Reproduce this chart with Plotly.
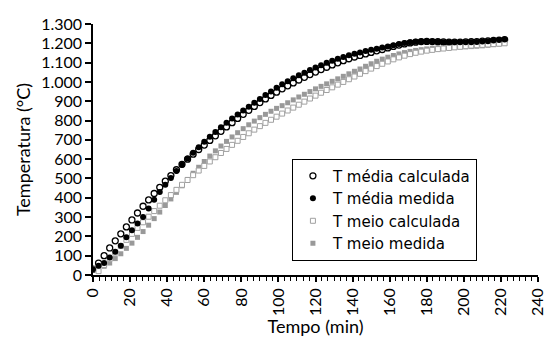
import plotly.graph_objects as go

tempo = list(range(0, 223, 3))

media_calculada = [30, 62, 100, 140, 177, 213, 249, 285, 321, 356, 389, 422, 454, 486, 515,
                   545, 573, 600, 626, 650, 673, 697, 721, 744, 767, 789, 811, 832, 853, 873,
                   893, 912, 930, 947, 964, 980, 995, 1010, 1024, 1038, 1051, 1064, 1076, 1088, 1099,
                   1110, 1120, 1129, 1137, 1145, 1153, 1161, 1168, 1176, 1184, 1191, 1197, 1202, 1206, 1209,
                   1210, 1209, 1208, 1207, 1206, 1206, 1206, 1207, 1208, 1209, 1211, 1213, 1215, 1217, 1219]

media_medida = [30, 48, 62, 90, 120, 152, 195, 232, 267, 301, 345, 390, 430, 467, 503,
                538, 571, 603, 633, 662, 690, 716, 741, 765, 788, 810, 831, 852, 872, 892,
                912, 932, 951, 970, 988, 1004, 1019, 1034, 1048, 1062, 1075, 1087, 1099, 1110, 1120,
                1129, 1138, 1146, 1153, 1160, 1166, 1172, 1178, 1184, 1190, 1196, 1201, 1205, 1208, 1210,
                1210, 1209, 1207, 1206, 1205, 1205, 1205, 1205, 1206, 1207, 1209, 1211, 1214, 1217, 1220]

meio_calculada = [30, 20, 52, 84, 116, 150, 182, 213, 244, 273, 302, 331, 359, 387, 414,
                  441, 467, 492, 517, 541, 565, 588, 610, 632, 653, 674, 695, 715, 734, 753,
                  771, 788, 804, 820, 836, 852, 867, 882, 898, 914, 929, 944, 958, 972, 986,
                  1000, 1014, 1028, 1042, 1056, 1069, 1082, 1094, 1106, 1117, 1127, 1136, 1144, 1151, 1157,
                  1162, 1166, 1170, 1173, 1176, 1179, 1182, 1185, 1188, 1190, 1192, 1194, 1196, 1198, 1200]

meio_medida = [30, 38, 45, 62, 85, 110, 138, 165, 195, 225, 258, 292, 326, 360, 394,
               428, 462, 495, 527, 558, 588, 616, 643, 668, 692, 715, 737, 758, 778, 797,
               815, 832, 848, 863, 877, 892, 907, 922, 936, 950, 964, 977, 990, 1003, 1016,
               1029, 1042, 1055, 1067, 1081, 1094, 1107, 1118, 1128, 1137, 1145, 1152, 1158, 1163, 1167,
               1171, 1174, 1176, 1178, 1179, 1180, 1181, 1182, 1183, 1185, 1187, 1190, 1193, 1196, 1199]

FONT = "Lato"

fig = go.Figure()
fig.add_trace(go.Scatter(x=tempo, y=media_calculada, mode="markers", name="T média calculada",
                         legendrank=1,
                         marker=dict(symbol="circle-open", size=6, color="black", line=dict(width=1.3))))
fig.add_trace(go.Scatter(x=tempo, y=meio_medida, mode="markers", name="T meio medida",
                         legendrank=4,
                         marker=dict(symbol="square", size=5, color="#999999")))
fig.add_trace(go.Scatter(x=tempo, y=meio_calculada, mode="markers", name="T meio calculada",
                         legendrank=3,
                         marker=dict(symbol="square", size=5, color="white",
                                     line=dict(width=1, color="#a0a0a0"))))
fig.add_trace(go.Scatter(x=tempo, y=media_medida, mode="markers", name="T média medida",
                         legendrank=2,
                         marker=dict(symbol="circle", size=6, color="black")))

# page body has an 8px margin, so the figure is 8px smaller and margins shifted
fig.update_layout(
    width=547, height=329, autosize=False,
    margin=dict(l=85, r=17, t=16, b=62),
    paper_bgcolor="white", plot_bgcolor="white",
    separators=",.",
    font=dict(family=FONT, size=16, color="black"),
    legend=dict(x=0.447, y=0.464, xanchor="left", yanchor="top",
                bordercolor="black", borderwidth=1, bgcolor="white",
                font=dict(family="DejaVu Sans", size=15), itemwidth=30, tracegroupgap=0),
    showlegend=True,
)
fig.update_xaxes(range=[0, 240], tick0=0, dtick=20, tickangle=-90, automargin=False,
                 showline=True, linecolor="black", linewidth=1.5,
                 ticks="outside", ticklen=5, tickcolor="black", tickwidth=1.5,
                 minor=dict(dtick=20/6, tick0=0, ticks="outside", ticklen=4, tickcolor="black", tickwidth=1),
                 showgrid=False, zeroline=False, tickfont=dict(size=16),
                 title=dict(text="Tempo (min)", font=dict(size=18), standoff=12))
fig.update_yaxes(range=[0, 1300], tick0=0, dtick=100, tickformat=",d", automargin=False,
                 showline=True, linecolor="black", linewidth=1.5,
                 ticks="outside", ticklen=6, tickcolor="black", tickwidth=1.5,
                 showgrid=False, zeroline=False, tickfont=dict(size=16),
                 title=dict(text="Temperatura (°C)", font=dict(size=18), standoff=6))

fig.write_html("out.html")
